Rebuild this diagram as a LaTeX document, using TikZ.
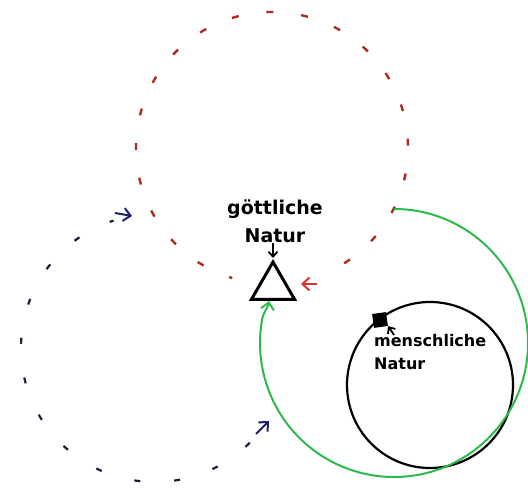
\documentclass[tikz,border=0pt]{standalone}
\usepackage{fontspec}
\setmainfont{DejaVu Sans}
\usetikzlibrary{shapes.geometric,arrows.meta}
\definecolor{redd}{RGB}{170,45,30}
\definecolor{navy}{RGB}{30,30,60}
\definecolor{bluearr}{RGB}{25,35,110}
\definecolor{grn}{RGB}{45,185,75}
\definecolor{redarr}{RGB}{215,50,50}
\begin{document}
\begin{tikzpicture}[x=1pt,y=1pt,
  reddash/.style={draw=redd, line width=2.4pt, dash pattern=on 7pt off 28pt},
  bluedash/.style={draw=navy, line width=2.2pt, dash pattern=on 6pt off 34pt},
  barb/.style={-{Straight Barb[length=5pt,width=9pt]}, line width=1.8pt},
  bigbarb/.style={-{Straight Barb[length=7pt,width=13pt]}, line width=2pt},
  lbl/.style={inner sep=0pt, text=black}]
\useasboundingbox (0,0) rectangle (528,503);
\fill[white] (0,0) rectangle (528,503);

% red dashed circle (around top)
\draw[reddash] (272,355) ++(-58:136pt) arc[start angle=-58,end angle=253,radius=136pt];
% blue dashed circle (lower left)
\draw[bluedash] (155,155) ++(-45:134pt) arc[start angle=-45,end angle=-252,radius=134pt];

% nodes
\node[regular polygon, regular polygon sides=3, draw, line width=3pt,
      minimum size=50pt, inner sep=0pt] (tri) at (273,216) {};
\node[lbl, align=center, anchor=north, font=\bfseries\fontsize{19}{28}\selectfont] (gl) at (275,303) {göttliche\\Natur};
\draw[line width=2.2pt] (430,118) circle[radius=83pt];
\node[fill=black, minimum size=14pt, inner sep=0pt, rotate=8] (sq) at (380,183) {};
\node[lbl, align=left, anchor=north west, font=\bfseries\fontsize{16}{23}\selectfont] (mn) at (374,169) {menschliche\\Natur};

% connectors
\draw[barb, shorten >=1pt] (tri.north |- gl.south) -- (tri.north);
\draw[barb] ([xshift=20pt,yshift=-1pt]mn.north west) -- (sq.south east);

\coordinate (gs) at (394,294);
\draw[grn, line width=2pt, -{Straight Barb[length=7pt,width=13pt]}]
  (gs) arc[start angle=90,end angle=-190,radius=134pt] to[out=80,in=-100] ([xshift=-4pt]tri.south);

% isolated arrow marks
\coordinate (ra1) at (317,219); \coordinate (ra2) at (301,219);
\draw[bigbarb, redarr] (ra1) -- (ra2);
\coordinate (ba1) at (115,290); \coordinate (ba2) at (132,287);
\draw[bigbarb, bluearr] (ba1) -- (ba2);
\coordinate (bb1) at (256,69); \coordinate (bb2) at (269,82);
\draw[bigbarb, bluearr] (bb1) -- (bb2);
\end{tikzpicture}
\end{document}
